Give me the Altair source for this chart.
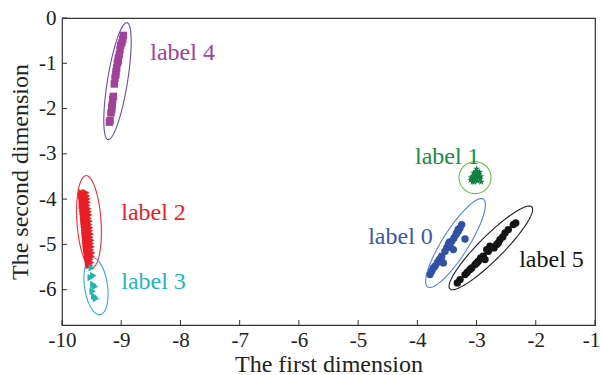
import numpy as np
import pandas as pd
import altair as alt

# ---- cluster points (first dimension, second dimension) ----
x0 = [-3.786, -3.757, -3.701, -3.629, -3.588, -3.533, -3.504, -3.448, -3.419, -3.381,
      -3.347, -3.308, -3.279, -3.251, -3.195, -3.392, -3.561, -3.730, -3.477, -3.335,
      -3.66, -3.60, -3.46, -3.31]
y0 = [-5.667, -5.594, -5.483, -5.336, -5.263, -5.152, -5.077, -5.042, -4.932, -4.857,
      -4.784, -4.711, -4.636, -4.563, -4.879, -5.115, -5.408, -5.519, -5.004, -4.746,
      -5.40, -5.30, -4.95, -4.67]

x1 = [-3.08, -3.05, -3.00, -2.96, -2.94, -3.02, -3.10, -2.98, -3.04, -2.92, -3.00,
      -3.06, -2.97, -3.03, -2.95, -3.07, -3.01, -2.99, -3.09, -2.93, -3.05, -3.02]
y1 = [-3.55, -3.42, -3.38, -3.45, -3.55, -3.50, -3.58, -3.60, -3.62, -3.62, -3.33,
      -3.50, -3.52, -3.45, -3.40, -3.62, -3.56, -3.47, -3.52, -3.50, -3.58, -3.42]

x2 = [-9.67, -9.62, -9.59, -9.675, -9.625, -9.58, -9.665, -9.615, -9.57, -9.66, -9.61,
      -9.565, -9.665, -9.61, -9.57, -9.655, -9.605, -9.555, -9.65, -9.60, -9.55,
      -9.645, -9.595, -9.54, -9.64, -9.59, -9.55, -9.635, -9.585, -9.535, -9.63,
      -9.58, -9.54, -9.625, -9.575, -9.525, -9.62, -9.57, -9.53, -9.615, -9.565,
      -9.515, -9.61, -9.56, -9.52, -9.605, -9.555, -9.505, -9.60, -9.55, -9.51,
      -9.595, -9.545, -9.50, -9.59, -9.54, -9.51, -9.58, -9.53, -9.49, -9.575,
      -9.525, -9.50, -9.565, -9.52, -9.56, -9.51, -9.55, -9.53]
y2 = [-3.86, -3.86, -3.86, -3.93, -3.93, -3.93, -4.00, -4.00, -4.00, -4.07, -4.07,
      -4.07, -4.14, -4.14, -4.14, -4.21, -4.21, -4.21, -4.28, -4.28, -4.28,
      -4.35, -4.35, -4.35, -4.42, -4.42, -4.42, -4.49, -4.49, -4.49, -4.56,
      -4.56, -4.56, -4.63, -4.63, -4.63, -4.70, -4.70, -4.70, -4.77, -4.77,
      -4.77, -4.84, -4.84, -4.84, -4.91, -4.91, -4.91, -4.98, -4.98, -4.98,
      -5.05, -5.05, -5.05, -5.12, -5.12, -5.12, -5.19, -5.19, -5.19, -5.26,
      -5.26, -5.26, -5.33, -5.33, -5.40, -5.40, -5.46, -5.46]

x3 = [-9.498, -9.471, -9.515, -9.471, -9.443, -9.482, -9.455, -9.426]
y3 = [-5.519, -5.689, -5.733, -5.887, -5.932, -6.035, -6.146, -6.196]

x4 = [-8.965, -8.975, -9.009, -9.021, -9.032, -9.049, -9.066, -9.076, -9.088, -9.105,
      -9.117, -9.134, -9.144, -9.151, -9.161, -9.173, -9.189, -8.99, -9.05, -9.09,
      -9.16, -9.20]
y4 = [-0.384, -0.479, -0.605, -0.700, -0.810, -0.883, -0.993, -1.104, -1.179, -1.325,
      -1.457, -1.731, -1.804, -1.914, -2.024, -2.097, -2.267, -0.55, -0.95, -1.25,
      -1.97, -2.30]

x5 = [-3.325, -3.279, -3.195, -3.156, -3.082, -3.026, -2.970, -2.930, -2.886, -2.828,
      -2.773, -2.705, -2.660, -2.604, -2.558, -2.519, -2.464, -2.379, -2.339, -2.857,
      -2.997, -3.110, -2.801, -2.633]
y5 = [-5.850, -5.777, -5.667, -5.616, -5.519, -5.446, -5.373, -5.298, -5.263, -5.115,
      -5.042, -5.077, -5.004, -4.894, -4.834, -4.746, -4.673, -4.563, -4.525, -5.336,
      -5.408, -5.556, -5.152, -4.967]

# ---- enclosing ellipses: centre, major and minor semi-axis vectors ----
ell_group = ["label 0", "label 1", "label 2", "label 3", "label 4", "label 5"]
ell_cx = [-3.355, -3.026, -9.544, -9.426, -9.063, -2.759]
ell_cy = [-4.970, -3.525, -4.497, -5.921, -1.395, -5.077]
ell_ax = [0.469, 0.270, -0.051, -0.068, 0.160, 0.691]
ell_ay = [0.970, 0.000, 1.015, 0.629, 1.291, 0.905]
ell_bx = [0.186, 0.000, 0.203, 0.192, 0.167, 0.143]
ell_by = [-0.153, 0.353, 0.018, 0.035, -0.035, -0.187]

# ---- text annotations ----
lab_text = ["label 0", "label 1", "label 2", "label 3", "label 4", "label 5"]
lab_x = [-4.83, -4.04, -9.00, -9.00, -8.51, -2.28]
lab_y = [-4.83, -3.06, -4.30, -5.82, -0.77, -5.34]

x_ticks = [-10, -9, -8, -7, -6, -5, -4, -3, -2, -1]
y_ticks = [0, -1, -2, -3, -4, -5, -6]

groups = ["label 0", "label 1", "label 2", "label 3", "label 4", "label 5"]
point_colors = ["#3350A8", "#118043", "#EE1D25", "#1DB4B4", "#A2419B", "#141414"]
text_colors = ["#3A58A8", "#1A8A45", "#EE1D25", "#22B5C0", "#A2419B", "#141414"]
ellipse_colors = ["#5585D5", "#6DBE45", "#E8303A", "#3AA4E0", "#6A4CAA", "#222222"]
star = "M0,-1L0.22,-0.3L0.95,-0.3L0.36,0.12L0.59,0.81L0,0.38L-0.59,0.81L-0.36,0.12L-0.95,-0.3L-0.22,-0.3Z"
shapes = ["circle", star, "triangle-right", "triangle-right", "square", "circle"]
sizes = [55, 55, 50, 75, 62, 58]

FONT = "Liberation Serif"

pts = pd.concat([
    pd.DataFrame({"x": xs, "y": ys, "g": g})
    for xs, ys, g in zip([x0, x1, x2, x3, x4, x5], [y0, y1, y2, y3, y4, y5], groups)
], ignore_index=True)

t = np.linspace(0, 2 * np.pi, 121)
ell = pd.concat([
    pd.DataFrame({
        "x": cx + ax * np.cos(t) + bx * np.sin(t),
        "y": cy + ay * np.cos(t) + by * np.sin(t),
        "g": g, "o": np.arange(len(t)),
    })
    for g, cx, cy, ax, ay, bx, by in zip(ell_group, ell_cx, ell_cy, ell_ax, ell_ay, ell_bx, ell_by)
], ignore_index=True)

labels = pd.DataFrame({"x": lab_x, "y": lab_y, "g": lab_text})

xs = alt.Scale(domain=[-10, -1], nice=False, zero=False)
ys = alt.Scale(domain=[-6.78, 0], nice=False, zero=False)

# the last x label is nudged inward so it stays inside the canvas
xax = alt.Axis(values=x_ticks, labelPadding=4, labelFlush=False,
               labelOffset={"condition": {"test": "datum.value == -1", "value": -4}, "value": 0},
               labelExpr="'' + datum.value", title="The first dimension", titlePadding=2)
yax = alt.Axis(values=y_ticks, labelPadding=6, labelFlush=False,
               labelExpr="'' + datum.value", title="The second dimension", titlePadding=6)

ellipses = alt.Chart(ell).mark_line(strokeWidth=1.1).encode(
    x=alt.X("x:Q", scale=xs, axis=xax),
    y=alt.Y("y:Q", scale=ys, axis=yax),
    color=alt.Color("g:N", scale=alt.Scale(domain=groups, range=ellipse_colors), legend=None),
    detail="g:N",
    order="o:Q",
)

points = alt.Chart(pts).mark_point(filled=True, opacity=1).encode(
    x=alt.X("x:Q", scale=xs),
    y=alt.Y("y:Q", scale=ys),
    color=alt.Color("g:N", scale=alt.Scale(domain=groups, range=point_colors), legend=None),
    shape=alt.Shape("g:N", scale=alt.Scale(domain=groups, range=shapes), legend=None),
    size=alt.Size("g:N", scale=alt.Scale(domain=groups, range=sizes), legend=None),
)

texts = alt.Chart(labels).mark_text(align="left", baseline="middle", font=FONT, fontSize=24).encode(
    x=alt.X("x:Q", scale=xs),
    y=alt.Y("y:Q", scale=ys),
    text="g:N",
    color=alt.Color("g:N", scale=alt.Scale(domain=groups, range=text_colors), legend=None),
)

xtick_marks = alt.Chart(pd.DataFrame({"v": x_ticks})).mark_rule(color="#333", strokeWidth=1).encode(
    x=alt.X("v:Q", scale=xs), y=alt.value(307), y2=alt.value(302)
)
ytick_marks = alt.Chart(pd.DataFrame({"v": y_ticks})).mark_rule(color="#333", strokeWidth=1).encode(
    y=alt.Y("v:Q", scale=ys), x=alt.value(0), x2=alt.value(5)
)

chart = alt.layer(ellipses, points, texts, xtick_marks, ytick_marks).resolve_scale(
    color="independent"
).properties(
    width=533, height=307,
    autosize=alt.AutoSizeParams(type="none"),
    padding={"left": 62, "top": 18, "right": 7, "bottom": 50},
    background="white",
).configure(
    font=FONT
).configure_axis(
    ticks=False, grid=False, domain=False,
    labelFont=FONT, labelFontSize=21, labelColor="#222",
    titleFont=FONT, titleFontSize=24, titleFontWeight="normal", titleColor="#222",
).configure_text(
    font=FONT
).configure_view(stroke="#333", strokeWidth=1.2)

chart.save("out.html", embed_options={"renderer": "svg", "actions": False})
